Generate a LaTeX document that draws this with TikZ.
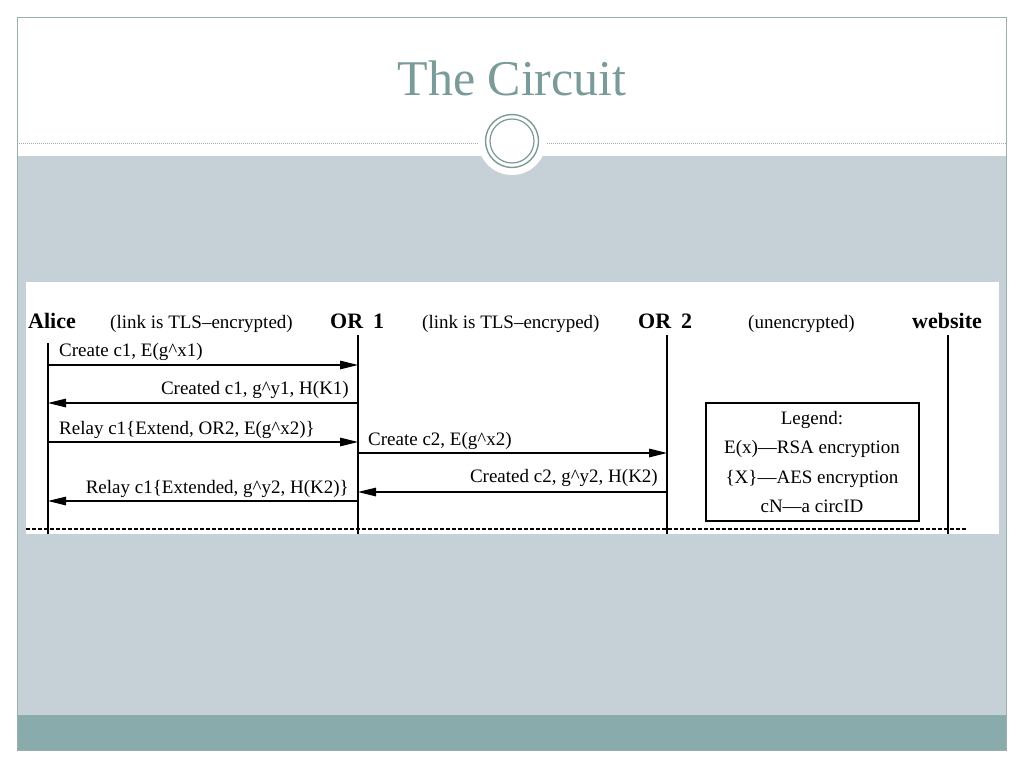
\documentclass[tikz,border=0pt]{standalone}
\usepackage{fontspec}
\setmainfont{Liberation Serif}
\usetikzlibrary{arrows.meta}
\definecolor{band}{HTML}{C5D1D7}
\definecolor{foot}{HTML}{8AABAB}
\definecolor{titlecol}{HTML}{7B9A9A}
\definecolor{framecol}{HTML}{9AAFB0}
\definecolor{ringcol}{HTML}{7E9898}
\tikzset{
  txt/.style={inner sep=0pt, font=\fontsize{19}{22}\selectfont},
  hdr/.style={inner sep=0pt, font=\fontsize{22}{26}\selectfont\bfseries},
  life/.style={draw=black, line width=1.3pt},
  msg/.style={draw=black, line width=1.3pt, -{Triangle[length=18pt,width=8.5pt]}},
}
\begin{document}
\begin{tikzpicture}[x=1pt,y=-1pt]
\useasboundingbox (0,0) rectangle (1024,768);
\fill[white] (0,0) rectangle (1024,768);
% slide frame
\fill[band] (17,156) rectangle (1006,715);
\fill[foot] (17,715) rectangle (1006,750);
\draw[framecol, line width=0.8pt] (17,17) rectangle (1006,750);
\draw[framecol, line width=1pt, dash pattern=on 1pt off 1pt] (17,143) -- (1006,143);
\fill[white] (512,141) circle[radius=34];
\draw[ringcol, line width=1.4pt] (512,141) circle[radius=26.5];
\draw[ringcol, line width=1.2pt] (512,141) circle[radius=22];
\node[inner sep=0pt, anchor=base, text=titlecol, font=\fontsize{50}{56}\selectfont] (title) at (512,95) {The Circuit};
% diagram area
\fill[white] (26,282) rectangle (999,534);
% headers
\node[hdr, anchor=base west] (alice) at (28,328) {Alice};
\node[txt, anchor=base west] (l1) at (110,328) {(link is TLS--encrypted)};
\node[hdr, anchor=base west] (or1) at (330,328) {OR\hspace{0.45em}1};
\node[txt, anchor=base west] (l2) at (422,328) {(link is TLS--encryped)};
\node[hdr, anchor=base west] (or2) at (638,328) {OR\hspace{0.45em}2};
\node[txt, anchor=base west] (l3) at (748,328) {(unencrypted)};
\node[hdr, anchor=base west] (web) at (912,328) {website};
% lifelines
\coordinate (aT) at (48,343);  \coordinate (aB) at (48,534);
\coordinate (o1T) at (358,335); \coordinate (o1B) at (358,534);
\coordinate (o2T) at (667,335); \coordinate (o2B) at (667,534);
\coordinate (wT) at (948,335);  \coordinate (wB) at (948,534);
\draw[life] (aT) -- (aB);
\draw[life] (o1T) -- (o1B);
\draw[life] (o2T) -- (o2B);
\draw[life] (wT) -- (wB);
% bottom dashed line
\coordinate (dL) at (26,529); \coordinate (dR) at (967,529);
\draw[black, line width=1.3pt, dash pattern=on 3.5pt off 2.5pt] (dL) -- (dR);
% message end points
\coordinate (a1) at (48,365); \coordinate (b1) at (358,365);
\coordinate (a2) at (48,403); \coordinate (b2) at (358,403);
\coordinate (a3) at (48,442); \coordinate (b3) at (358,442);
\coordinate (b4) at (358,453); \coordinate (c4) at (667,453);
\coordinate (b5) at (358,492); \coordinate (c5) at (667,492);
\coordinate (a6) at (48,501); \coordinate (b6) at (358,501);
\draw[msg] (a1) -- (b1);
\draw[msg] (b2) -- (a2);
\draw[msg] (a3) -- (b3);
\draw[msg] (b4) -- (c4);
\draw[msg] (c5) -- (b5);
\draw[msg] (b6) -- (a6);
% message labels
\node[txt, anchor=base west] (m1) at (59,356) {Create c1, E(g\textasciicircum x1)};
\node[txt, anchor=base east] (m2) at (349,394) {Created c1, g\textasciicircum y1, H(K1)};
\node[txt, anchor=base west] (m3) at (59,434) {Relay c1\{Extend, OR2, E(g\textasciicircum x2)\}};
\node[txt, anchor=base west] (m4) at (368,445) {Create c2, E(g\textasciicircum x2)};
\node[txt, anchor=base east] (m5) at (658,482) {Created c2, g\textasciicircum y2, H(K2)};
\node[txt, anchor=base east] (m6) at (349,493) {Relay c1\{Extended, g\textasciicircum y2, H(K2)\}};
% legend
\draw[black, line width=1.3pt] (706,403) rectangle (919,521);
\node[txt, anchor=base] (lg0) at (812,424) {Legend:};
\node[txt, anchor=base] (lg1) at (812,453) {E(x)---RSA encryption};
\node[txt, anchor=base] (lg2) at (812,483) {\{X\}---AES encryption};
\node[txt, anchor=base] (lg3) at (812,512) {cN---a circID};
\end{tikzpicture}
\end{document}
